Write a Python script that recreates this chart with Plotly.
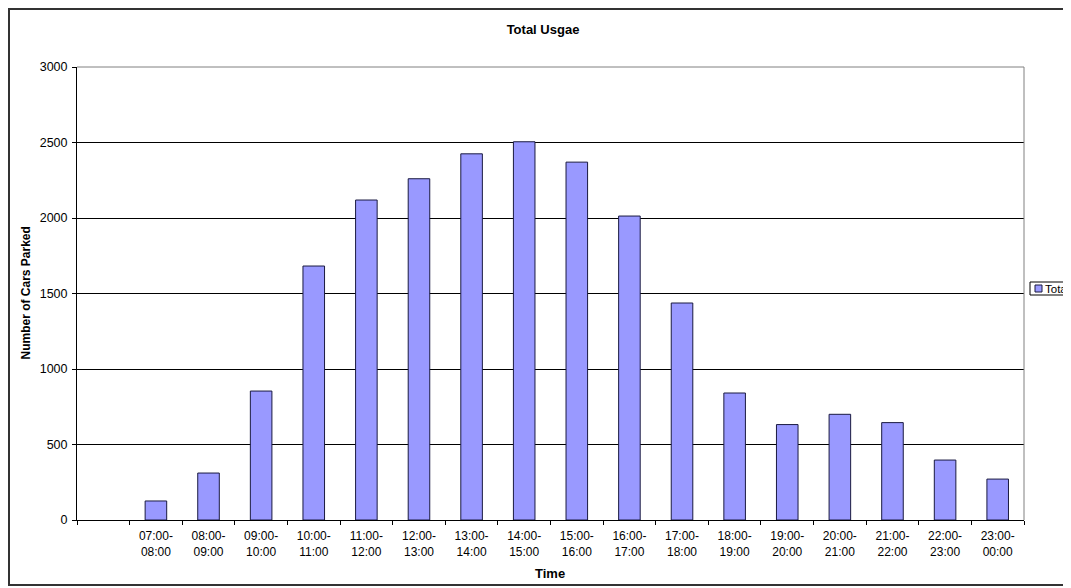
import plotly.graph_objects as go

time_slots = ["07:00-08:00", "08:00-09:00", "09:00-10:00", "10:00-11:00", "11:00-12:00",
              "12:00-13:00", "13:00-14:00", "14:00-15:00", "15:00-16:00", "16:00-17:00",
              "17:00-18:00", "18:00-19:00", "19:00-20:00", "20:00-21:00", "21:00-22:00",
              "22:00-23:00", "23:00-00:00"]
cars_parked = [126, 311, 854, 1682, 2119, 2260, 2425, 2505, 2370, 2013,
               1437, 841, 632, 700, 645, 397, 271]
y_ticks = [0, 500, 1000, 1500, 2000, 2500, 3000]
series_name = "Total"
bar_color = "#9999FF"

# two-line labels, with an empty leading category as in the original
labels = [" "] + [s.replace("-", "-<br>") for s in time_slots]
values = [None] + cars_parked

W, H = 1071, 588
OFF = 8  # page body margin
# plot area in screen pixels
L, R, T, B = 77, 1024, 67, 520
pw, ph = R - L, B - T

def px_x(x):
    return (x - L) / pw

def px_y(y):
    return (B - y) / ph

FAM = "Liberation Sans, Arial, sans-serif"
def f(size):
    return dict(family=FAM, size=size, color="black")

fig = go.Figure()
fig.add_trace(go.Bar(
    x=labels, y=values, name=series_name,
    marker=dict(color=bar_color, line=dict(color="#1a1a40", width=1)),
    showlegend=False,
))

fig.update_layout(
    width=W, height=H,
    margin=dict(l=L - OFF, r=W - (R - OFF), t=T - OFF, b=H - (B - OFF), autoexpand=False),
    paper_bgcolor="white", plot_bgcolor="white",
    font=f(12),
    bargap=0.59,
    title=dict(text="<b>Total Usgae</b>", x=(543 - OFF) / W, xref="container", xanchor="center",
               y=1 - (29 - OFF) / H, yref="container", yanchor="middle",
               font=f(13)),
    xaxis=dict(type="category", categoryorder="array", categoryarray=labels,
               showgrid=False, showline=True, linecolor="black", linewidth=1,
               ticks="outside", ticklen=4, tickcolor="black", tickson="boundaries",
               tickfont=f(12), ticklabelstandoff=5,
               range=[-0.5, len(labels) - 0.5], fixedrange=True),
    yaxis=dict(range=[0, 3000], tickvals=y_ticks, showgrid=True, gridcolor="black",
               gridwidth=1, zeroline=False, showline=True, linecolor="black", linewidth=1,
               ticks="outside", ticklen=4, tickcolor="black", tickfont=f(12.5),
               ticklabelstandoff=2),
    showlegend=False,
    annotations=[
        dict(text="<b>Number of Cars Parked</b>", textangle=-90, x=px_x(25), y=0.5,
             xref="paper", yref="paper", showarrow=False, xanchor="center", yanchor="middle",
             font=f(12)),
        dict(text="<b>Time</b>", x=px_x(550), y=px_y(573), xref="paper", yref="paper",
             showarrow=False, xanchor="center", yanchor="middle", font=f(13)),
        # legend text
        dict(text=series_name, x=px_x(1043), y=px_y(288.5), xref="paper", yref="paper",
             showarrow=False, xanchor="left", yanchor="middle", font=f(11.5)),
    ],
    shapes=[
        dict(type="line", xref="paper", yref="paper", x0=0, x1=1, y0=1, y1=1,
             line=dict(color="#808080", width=1), layer="above"),
        dict(type="line", xref="paper", yref="paper", x0=1, x1=1, y0=0, y1=1,
             line=dict(color="#808080", width=1), layer="above"),
        # outer chart border
        dict(type="rect", xref="paper", yref="paper", x0=px_x(9), x1=px_x(1090),
             y0=px_y(585), y1=px_y(9), line=dict(color="#333333", width=2)),
        # legend box and key
        dict(type="rect", xref="paper", yref="paper", x0=px_x(1030), x1=px_x(1090),
             y0=px_y(295), y1=px_y(282), line=dict(color="black", width=1),
             fillcolor="white"),
        dict(type="rect", xref="paper", yref="paper", x0=px_x(1035), x1=px_x(1042),
             y0=px_y(292), y1=px_y(285), line=dict(color="#1a1a40", width=1),
             fillcolor=bar_color),
    ],
)

fig.write_html("out.html")
